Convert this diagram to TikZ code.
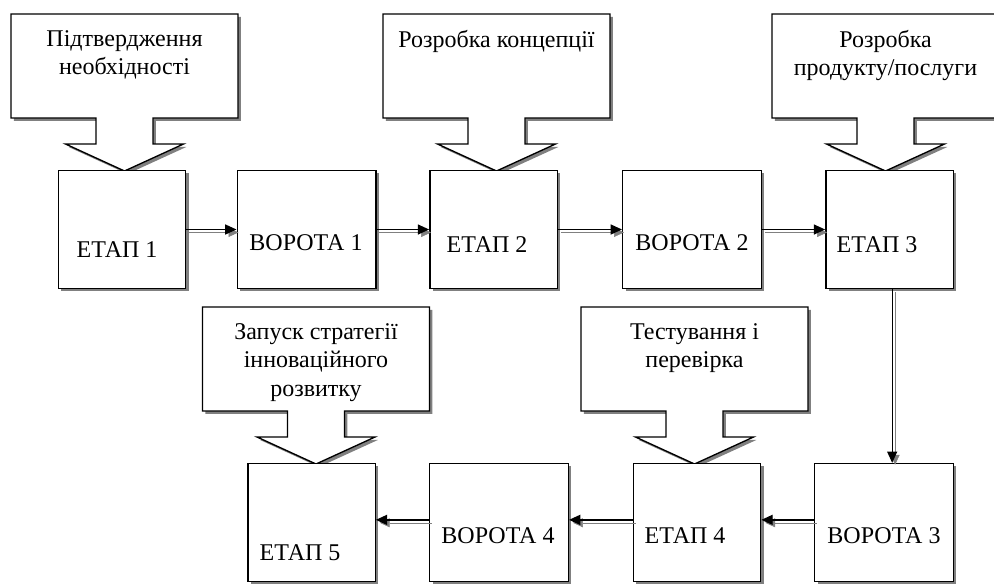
\documentclass[tikz,border=0pt]{standalone}
\usepackage{fontspec}
\setmainfont{Liberation Serif}
\usetikzlibrary{arrows.meta,shadows}
\definecolor{shadowgray}{RGB}{128,128,128}
\tikzset{
  boxshadow/.style={drop shadow={shadow xshift=2.2pt,shadow yshift=-2.2pt,fill=shadowgray,opacity=1}},
  stagebox/.style={draw,fill=white,line width=1pt,inner sep=0pt,minimum height=88.5pt,boxshadow},
  etapbox/.style={stagebox,minimum width=95.5pt},
  gatebox/.style={stagebox,minimum width=104pt},
  callout/.style={draw,fill=white,line width=1pt,line join=miter,boxshadow},
  lbl/.style={anchor=base,inner sep=0pt,font=\fontsize{18}{21.4}\selectfont},
  ctext/.style={anchor=north,align=center,inner sep=0pt,font=\fontsize{18}{21.4}\selectfont},
  flow/.style={-{Triangle[length=8.5pt,width=7.5pt]},line width=1pt,
    preaction={draw=shadowgray,transform canvas={shift={(2.2pt,-2.2pt)}}}}
}
\begin{document}
\begin{tikzpicture}[x=0.75pt,y=-0.75pt]
\useasboundingbox (0,0) rectangle (994,583);

% callouts above the stages
\foreach \cx/\ty/\txt [count=\i] in {124.5/14/{Підтвердження\\необхідності},
    496.5/14/{Розробка концепції}, 885.5/14/{Розробка\\продукту/послуги},
    316/307/{Запуск стратегії\\інноваційного\\розвитку}, 694.5/307/{Тестування і\\перевірка}}
{
  \draw[callout,shift={(\cx,\ty)}] (-113.5,0) -- (113.5,0) -- (113.5,104) -- (28.5,104)
    -- (28.5,130) -- (59,130) -- (0,157) -- (-59,130) -- (-28.5,130) -- (-28.5,104)
    -- (-113.5,104) -- cycle;
  \node[ctext] (call\i) at (\cx,\ty+16) {\txt};
}

% top row
\node[etapbox] (e1) at (122,229.5) {};
\node[gatebox] (v1) at (306.5,229.5) {};
\node[etapbox] (e2) at (493.5,229.5) {};
\node[gatebox] (v2) at (692,229.5) {};
\node[etapbox] (e3) at (889.5,229.5) {};
\node[lbl] (e1t) at (117,257) {ЕТАП 1};
\node[lbl] (v1t) at (306,250) {ВОРОТА 1};
\node[lbl] (e2t) at (487,252) {ЕТАП 2};
\node[lbl] (v2t) at (692,250) {ВОРОТА 2};
\node[lbl] (e3t) at (877,252) {ЕТАП 3};

% bottom row
\node[gatebox] (v3) at (884,522.5) {};
\node[etapbox] (e4) at (697,522.5) {};
\node[gatebox] (v4) at (499,522.5) {};
\node[etapbox] (e5) at (311.5,522.5) {};
\node[lbl] (v3t) at (884,543) {ВОРОТА 3};
\node[lbl] (e4t) at (685,543) {ЕТАП 4};
\node[lbl] (v4t) at (498,543) {ВОРОТА 4};
\node[lbl] (e5t) at (300,560) {ЕТАП 5};

% connectors
\draw[flow] (e1.east) -- (v1.west);
\draw[flow] (v1.east) -- (e2.west);
\draw[flow] (e2.east) -- (v2.west);
\draw[flow] (v2.east) -- (e3.west);
\draw[flow] ([xshift=2pt]e3.south) -- ([xshift=2pt]e3.south |- v3.north);
\draw[flow] ([yshift=2pt]v3.west) -- ([yshift=2pt]e4.east);
\draw[flow] ([yshift=2pt]e4.west) -- ([yshift=2pt]v4.east);
\draw[flow] ([yshift=2pt]v4.west) -- ([yshift=2pt]e5.east);
\end{tikzpicture}
\end{document}
